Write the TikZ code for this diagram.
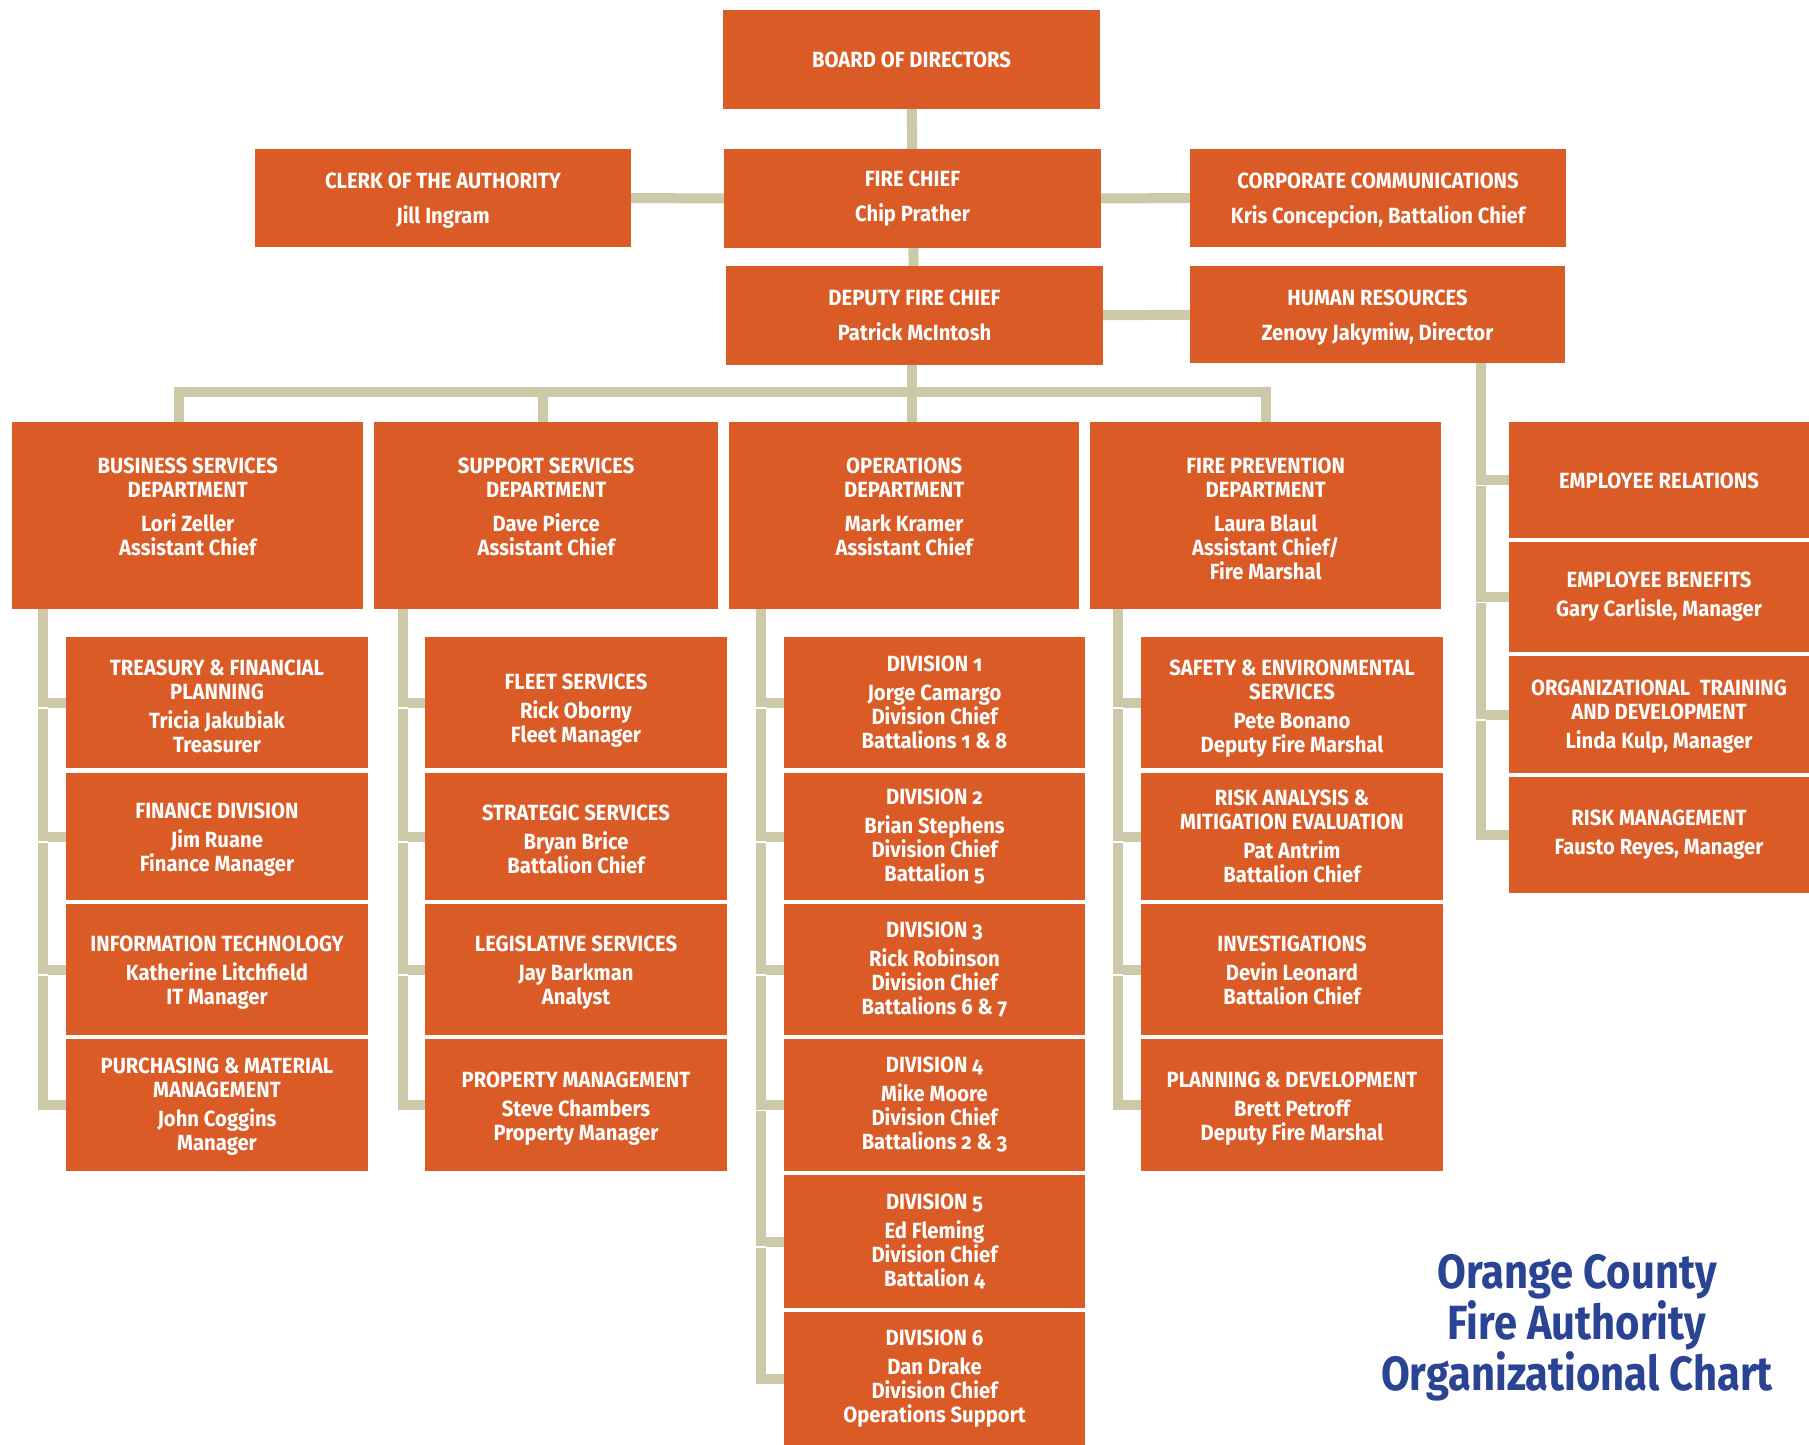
\documentclass[tikz,border=0pt]{standalone}
\usepackage{fontspec}
\setmainfont{Fira Sans}[Numbers=OldStyle,FakeStretch=0.92]
\newfontfamily\titlefont{Fira Sans}[FakeStretch=0.87]
\usetikzlibrary{backgrounds,calc}
\definecolor{ocorange}{HTML}{DA5B26}
\definecolor{ockhaki}{HTML}{CCC9A9}
\definecolor{ocblue}{HTML}{2A4393}
\tikzset{
  box/.style={fill=ocorange, text=white, inner sep=0pt, align=center,
    font=\bfseries\fontsize{22}{24}\selectfont},
  conn/.style={draw=ockhaki, line width=10pt},
  gapline/.style={draw=white, line width=1.3pt},
  ttl/.style={text=ocblue, align=center, font=\titlefont\bfseries\fontsize{48}{51}\selectfont},
}
\newcommand\cbox[7][]{\node[box,minimum width={(#5-#3)*1pt},minimum height={(#6-#4)*1pt}] (#2) at ({(#3+#5)/2},{(#4+#6)/2}) {};
  \node[box,fill=none,#1] (#2-t) at (#2.center) {#7};}
\newcommand\tbox[6]{\node[box,anchor=north west] (#1) at (#2,#3) {\parbox[c][\dimexpr #5pt-#3pt\relax][t]{\dimexpr #4pt-#2pt\relax}{\centering\vspace*{36pt}#6}};}
\begin{document}
\begin{tikzpicture}[x=1pt,y=-1pt]
\useasboundingbox (0,0) rectangle (1809,1445);
% top
\cbox{board}{723}{10}{1100}{109}{BOARD OF DIRECTORS}
\cbox{chief}{724}{149}{1101}{248}{FIRE CHIEF\\[11pt]Chip Prather}
\cbox[yshift=-3pt]{clerk}{255}{149}{631}{247}{CLERK OF THE AUTHORITY\\[11pt]Jill Ingram}
\cbox[yshift=-3pt]{corp}{1190}{149}{1566}{247}{CORPORATE COMMUNICATIONS\\[11pt]Kris Concepcion, Battalion Chief}
\cbox{deputy}{726}{266}{1103}{365}{DEPUTY FIRE CHIEF\\[11pt]Patrick McIntosh}
\cbox[yshift=-3pt]{hr}{1190}{266}{1565}{363}{HUMAN RESOURCES\\[11pt]Zenovy Jakymiw, Director}
% departments
\tbox{biz}{12}{422}{363}{609}{BUSINESS SERVICES\\DEPARTMENT\\[10pt]Lori Zeller\\Assistant Chief}
\tbox{sup}{374}{422}{718}{609}{SUPPORT SERVICES\\DEPARTMENT\\[10pt]Dave Pierce\\Assistant Chief}
\tbox{ops}{729}{422}{1079}{609}{OPERATIONS\\DEPARTMENT\\[10pt]Mark Kramer\\Assistant Chief}
\tbox{fp}{1090}{422}{1441}{609}{FIRE PREVENTION\\DEPARTMENT\\[10pt]Laura Blaul\\Assistant Chief/\\Fire Marshal}
% business subs
\cbox[yshift=-4pt]{bz1}{66}{637}{368}{768}{TREASURY \& FINANCIAL\\PLANNING\\[5pt]Tricia Jakubiak\\Treasurer}
\cbox[yshift=-3.5pt]{bz2}{66}{773}{368}{900}{FINANCE DIVISION\\[5pt]Jim Ruane\\Finance Manager}
\cbox[yshift=-3pt]{bz3}{66}{904}{368}{1035}{INFORMATION TECHNOLOGY\\[5pt]Katherine Litchfield\\IT Manager}
\cbox[yshift=-2pt]{bz4}{66}{1039}{368}{1171}{PURCHASING \& MATERIAL\\MANAGEMENT\\[5pt]John Coggins\\Manager}
% support subs
\cbox[yshift=-8pt]{su1}{425}{637}{727}{768}{FLEET SERVICES\\[5pt]Rick Oborny\\Fleet Manager}
\cbox[yshift=-3pt]{su2}{425}{773}{727}{900}{STRATEGIC SERVICES\\[5pt]Bryan Brice\\Battalion Chief}
\cbox[yshift=-3pt]{su3}{425}{904}{727}{1035}{LEGISLATIVE SERVICES\\[5pt]Jay Barkman\\Analyst}
\cbox[yshift=-4pt]{su4}{425}{1039}{727}{1171}{PROPERTY MANAGEMENT\\[5pt]Steve Chambers\\Property Manager}
% operations subs
\cbox{op1}{784}{637}{1085}{768}{DIVISION 1\\[5pt]Jorge Camargo\\Division Chief\\Battalions 1 \& 8}
\cbox{op2}{784}{773}{1085}{900}{DIVISION 2\\[5pt]Brian Stephens\\Division Chief\\Battalion 5}
\cbox{op3}{784}{904}{1085}{1035}{DIVISION 3\\[5pt]Rick Robinson\\Division Chief\\Battalions 6 \& 7}
\cbox{op4}{784}{1039}{1085}{1171}{DIVISION 4\\[5pt]Mike Moore\\Division Chief\\Battalions 2 \& 3}
\cbox{op5}{784}{1175}{1085}{1308}{DIVISION 5\\[5pt]Ed Fleming\\Division Chief\\Battalion 4}
\cbox{op6}{784}{1312}{1085}{1445}{DIVISION 6\\[5pt]Dan Drake\\Division Chief\\Operations Support}
% fire prevention subs
\cbox[yshift=-6pt]{fp1}{1141}{637}{1443}{768}{SAFETY \& ENVIRONMENTAL\\SERVICES\\[5pt]Pete Bonano\\Deputy Fire Marshal}
\cbox{fp2}{1141}{773}{1443}{900}{RISK ANALYSIS \&\\MITIGATION EVALUATION\\[5pt]Pat Antrim\\Battalion Chief}
\cbox[yshift=-1pt]{fp3}{1141}{904}{1443}{1035}{INVESTIGATIONS\\[5pt]Devin Leonard\\Battalion Chief}
\cbox[yshift=-4pt]{fp4}{1141}{1039}{1443}{1171}{PLANNING \& DEVELOPMENT\\[5pt]Brett Petroff\\Deputy Fire Marshal}
% HR subs
\cbox[yshift=-1pt]{hr1}{1509}{422}{1809}{538}{EMPLOYEE RELATIONS}
\cbox{hr2}{1509}{542}{1809}{652}{EMPLOYEE BENEFITS\\[5pt]Gary Carlisle, Manager}
\cbox[yshift=-2pt]{hr3}{1509}{656}{1809}{773}{ORGANIZATIONAL\ \ TRAINING\\AND DEVELOPMENT\\[5pt]Linda Kulp, Manager}
\cbox{hr4}{1509}{777}{1809}{893}{RISK MANAGEMENT\\[5pt]Fausto Reyes, Manager}
% title
\node[ttl] (title) at (1577,1328) {Orange County\\Fire Authority\\Organizational Chart};
% connectors
\begin{pgfonlayer}{background}
\fill[white] (0,0) rectangle (1809,1445);
\coordinate (b1) at (179,392);
\coordinate (b2) at (543,392);
\coordinate (b3) at (912,392);
\coordinate (b4) at (1266,392);
\draw[conn] (board) -- (chief);
\draw[conn] (chief) -- (deputy);
\draw[conn] (clerk) -- (chief);
\draw[conn] (chief) -- (corp);
\draw[conn] (deputy) -- (hr);
\draw[conn] (deputy.south -| b3) -- (b3);
\draw[conn] (b1 |- biz.north) -- (b1) -- (b4) -- (b4 |- fp.north);
\draw[conn] (b2) -- (b2 |- sup.north);
\draw[conn] (b3) -- (b3 |- ops.north);
\coordinate (v1) at (43,0);
\coordinate (v2) at (403,0);
\coordinate (v3) at (761,0);
\coordinate (v4) at (1118,0);
\coordinate (v5) at (1481,0);
\draw[conn] (v1 |- biz.south) -- (v1 |- bz4.west) -- (bz4.west);
\draw[conn] (v2 |- sup.south) -- (v2 |- su4.west) -- (su4.west);
\draw[conn] (v3 |- ops.south) -- (v3 |- op6.west) -- (op6.west);
\draw[conn] (v4 |- fp.south) -- (v4 |- fp4.west) -- (fp4.west);
\draw[conn] (v5 |- hr.south) -- (v5 |- hr4.west) -- (hr4.west);
\foreach \v/\c in {v1/bz1,v1/bz2,v1/bz3,v2/su1,v2/su2,v2/su3,v3/op1,v3/op2,v3/op3,v3/op4,v3/op5,v4/fp1,v4/fp2,v4/fp3,v5/hr1,v5/hr2,v5/hr3}{
  \draw[conn] (\v |- \c.west) -- (\c.west);
  \draw[gapline] ($(\v |- \c.west)+(-5,5.6)$) -- +(10,0);
}
\end{pgfonlayer}
\end{tikzpicture}
\end{document}
